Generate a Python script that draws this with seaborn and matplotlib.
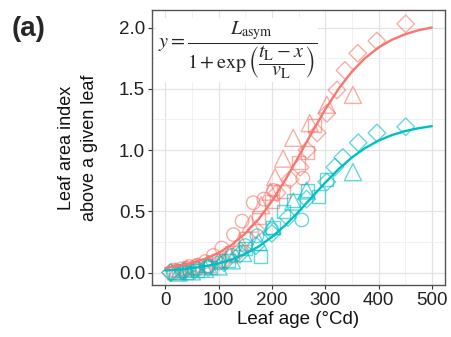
import numpy as np
import pandas as pd
import matplotlib
matplotlib.use("Agg")
import matplotlib.pyplot as plt
from matplotlib.ticker import MultipleLocator
import seaborn as sns

# measured points, one list pair per group and shape
red_circle_x = [15, 30, 45, 60, 75, 90, 106, 128, 144, 165, 185, 203, 258]
red_circle_y = [0.02, 0.03, 0.05, 0.06, 0.09, 0.14, 0.20, 0.31, 0.42, 0.57, 0.60, 0.67, 0.77]
red_tri_x = [20, 40, 60, 80, 100, 120, 140, 160, 180, 197, 206, 221, 240, 271, 303, 352]
red_tri_y = [0.01, 0.03, 0.05, 0.07, 0.10, 0.15, 0.25, 0.40, 0.55, 0.66, 0.78, 0.93, 1.10, 1.22, 1.37, 1.45]
red_sq_x = [25, 50, 75, 100, 125, 150, 175, 200, 221, 250, 266, 280]
red_sq_y = [0.02, 0.04, 0.06, 0.10, 0.16, 0.28, 0.45, 0.58, 0.66, 0.90, 0.98, 1.20]
red_dia_x = [10, 35, 55, 80, 110, 140, 170, 210, 234, 253, 266, 285, 303, 322, 337, 361, 397, 451]
red_dia_y = [0.0, 0.02, 0.04, 0.06, 0.10, 0.18, 0.35, 0.65, 0.76, 0.86, 1.00, 1.14, 1.30, 1.49, 1.65, 1.79, 1.89, 2.03]

cyan_circle_x = [15, 30, 45, 60, 80, 100, 125, 150, 172, 200, 256]
cyan_circle_y = [0.0, 0.01, 0.02, 0.03, 0.05, 0.08, 0.14, 0.22, 0.30, 0.35, 0.43]
cyan_tri_x = [25, 50, 75, 100, 125, 146, 175, 200, 240, 265, 352]
cyan_tri_y = [0.0, 0.01, 0.03, 0.05, 0.10, 0.16, 0.25, 0.38, 0.58, 0.67, 0.82]
cyan_sq_x = [20, 40, 60, 85, 118, 150, 178, 202, 221, 240, 266, 287, 303]
cyan_sq_y = [0.0, 0.0, 0.02, 0.04, 0.10, 0.20, 0.13, 0.37, 0.50, 0.59, 0.67, 0.62, 0.76]
cyan_dia_x = [10, 35, 55, 80, 110, 140, 170, 200, 230, 265, 303, 318, 333, 362, 397, 451]
cyan_dia_y = [0.0, 0.01, 0.02, 0.04, 0.08, 0.15, 0.22, 0.32, 0.45, 0.60, 0.74, 0.86, 0.94, 1.06, 1.14, 1.19]

# fitted curves
curve_x = [0, 25, 50, 75, 100, 125, 150, 175, 200, 225, 250, 275, 300, 325, 350, 375, 400, 425, 450, 475, 500]
red_curve_y = [0.037, 0.054, 0.078, 0.113, 0.161, 0.228, 0.319, 0.436, 0.583, 0.756, 0.946, 1.143, 1.331,
               1.499, 1.640, 1.751, 1.837, 1.900, 1.945, 1.978, 2.000]
cyan_curve_y = [0.017, 0.024, 0.036, 0.052, 0.075, 0.108, 0.153, 0.213, 0.291, 0.386, 0.496, 0.615, 0.734,
                0.844, 0.939, 1.017, 1.077, 1.122, 1.155, 1.178, 1.195]

palette = {"A": "#F8766D", "B": "#00BFC4"}
markers = {"circle": "o", "triangle": "^", "square": "s", "diamond": "D"}
marker_sizes = {"circle": 95, "triangle": 150, "square": 90, "diamond": 80}

rows = []
point_sets = [
    ("A", "circle", red_circle_x, red_circle_y), ("A", "triangle", red_tri_x, red_tri_y),
    ("A", "square", red_sq_x, red_sq_y), ("A", "diamond", red_dia_x, red_dia_y),
    ("B", "circle", cyan_circle_x, cyan_circle_y), ("B", "triangle", cyan_tri_x, cyan_tri_y),
    ("B", "square", cyan_sq_x, cyan_sq_y), ("B", "diamond", cyan_dia_x, cyan_dia_y),
]
for g, sh, xs, ys in point_sets:
    for x, y in zip(xs, ys):
        rows.append({"age": x, "lai": y, "group": g, "shape": sh})
pts = pd.DataFrame(rows)

curves = pd.concat([
    pd.DataFrame({"age": curve_x, "lai": red_curve_y, "group": "A"}),
    pd.DataFrame({"age": curve_x, "lai": cyan_curve_y, "group": "B"}),
])

sns.set_style("white")
plt.rcParams["font.family"] = ["Liberation Sans", "DejaVu Sans"]
plt.rcParams["mathtext.fontset"] = "stix"

fig = plt.figure(figsize=(4.51, 3.37), dpi=100)
ax = fig.add_axes([0.337, 0.154, 0.650, 0.816])

sns.scatterplot(data=pts, x="age", y="lai", hue="group", style="shape", size="shape",
                sizes=marker_sizes, palette=palette, markers=markers, linewidth=1.0,
                legend=False, ax=ax, zorder=3)
coll = ax.collections[0]
fc = coll.get_facecolors().copy()
fc[:, 3] = 0.6
coll.set_edgecolors(fc)
coll.set_facecolors("none")

sns.lineplot(data=curves, x="age", y="lai", hue="group", palette=palette, linewidth=1.7,
             legend=False, ax=ax, zorder=4)

ax.set_xlim(-25, 525)
ax.set_ylim(-0.102, 2.142)
ax.xaxis.set_major_locator(MultipleLocator(100))
ax.xaxis.set_minor_locator(MultipleLocator(50))
ax.yaxis.set_major_locator(MultipleLocator(0.5))
ax.yaxis.set_minor_locator(MultipleLocator(0.25))
ax.yaxis.set_major_formatter(plt.FuncFormatter(lambda v, p: f"{v:.1f}"))
ax.grid(which="major", color="#E3E3E3", linewidth=0.9)
ax.grid(which="minor", color="#EFEFEF", linewidth=0.6)
ax.set_axisbelow(True)
for sp in ax.spines.values():
    sp.set_color("#555555")
    sp.set_linewidth(1.0)
ax.tick_params(which="major", direction="out", length=3, width=0.8, color="#333333",
               labelsize=13.5, labelcolor="#222222", pad=2, left=True, bottom=True)
ax.tick_params(which="minor", length=0)

ax.set_xlabel("Leaf age (°Cd)", fontsize=13.5, color="#111111")
ax.xaxis.set_label_coords(0.5, -0.095)
ax.set_ylabel("Leaf area index\nabove a given leaf", fontsize=13, color="#111111",
              linespacing=1.45)
ax.yaxis.set_label_coords(-0.185, 0.5)

formula = (r"$y = \dfrac{L_{\mathrm{asym}}}{1 + \exp\left(\dfrac{t_{\mathrm{L}} - x}{v_{\mathrm{L}}}\right)}$")
ax.text(0.02, 0.855, formula, transform=ax.transAxes, fontsize=14.5, ha="left", va="center",
        zorder=5, bbox=dict(facecolor="white", edgecolor="none", pad=1.0))

fig.text(0.025, 0.915, "(a)", fontsize=20, fontweight="bold", ha="left", va="center")

fig.savefig("out.png", dpi=100)
